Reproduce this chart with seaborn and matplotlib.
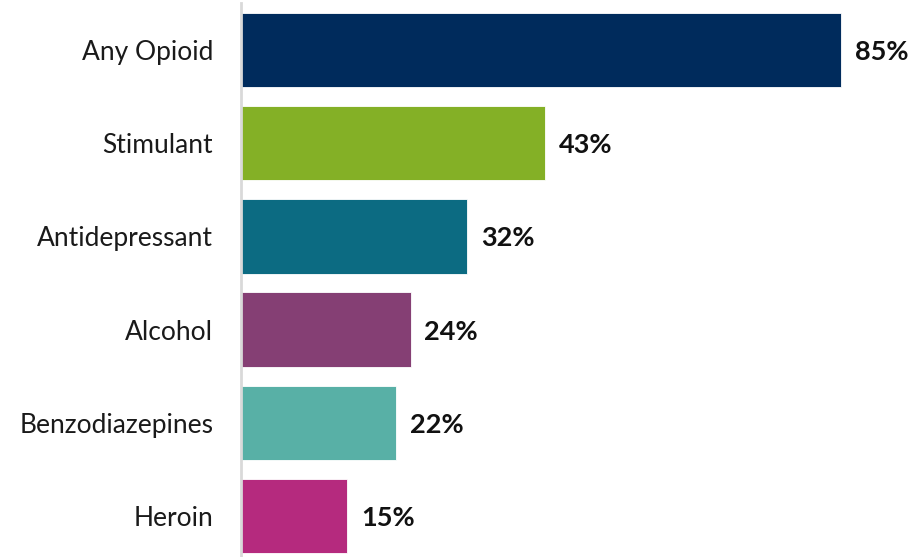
import matplotlib
matplotlib.use("Agg")
import matplotlib.pyplot as plt
import seaborn as sns
import pandas as pd

categories = ["Any Opioid", "Stimulant", "Antidepressant", "Alcohol", "Benzodiazepines", "Heroin"]
percent = [85, 43, 32, 24, 22, 15]
colors = ["#002B5C", "#84B026", "#0C6B82", "#853F74", "#58B0A6", "#B52A7E"]

sns.set_theme(style="white")
plt.rcParams["font.family"] = ["Lato", "DejaVu Sans"]

df = pd.DataFrame({"substance": categories, "pct": percent})

fig = plt.figure(figsize=(9.19, 5.57), dpi=100)
ax = fig.add_axes([241 / 919, 0.0, 671 / 919, 554 / 557])

sns.barplot(data=df, x="pct", y="substance", hue="substance", palette=colors,
            order=categories, hue_order=categories, legend=False, saturation=1,
            width=0.8, edgecolor="white", linewidth=0.6, ax=ax)

ax.set_xlim(0, 95)
ax.set_ylim(5.44, -0.504)
ax.set_xlabel("")
ax.set_ylabel("")
ax.set_xticks([])
ax.tick_params(axis="y", length=0, pad=20, labelsize=19, labelcolor="#1a1a1a")

for side in ["top", "right", "bottom"]:
    ax.spines[side].set_visible(False)
ax.spines["left"].set_color("#D9D9D9")
ax.spines["left"].set_linewidth(2)

for i, v in enumerate(percent):
    ax.annotate(f"{v}%", xy=(v, i), xytext=(10, -1.5), textcoords="offset points",
                ha="left", va="center", fontsize=19.5, fontweight="bold", color="#111111",
                annotation_clip=False)

fig.savefig("out.png", dpi=100)
